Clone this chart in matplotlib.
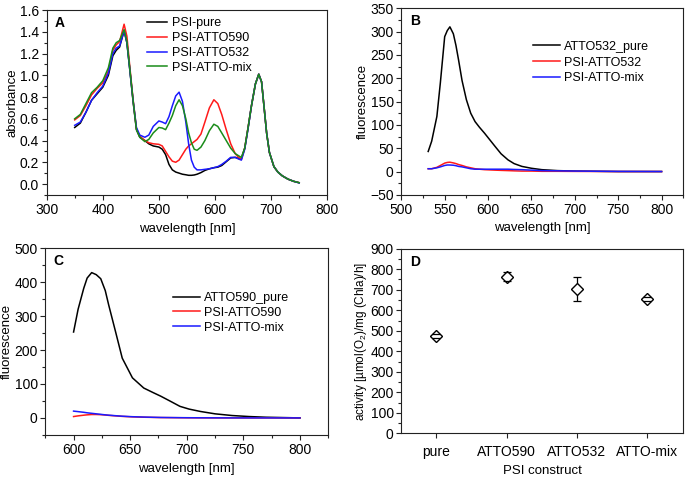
import numpy as np
import matplotlib
matplotlib.use('Agg')
import matplotlib.pyplot as plt
from matplotlib.ticker import MultipleLocator

plt.rcParams['font.family'] = ['Liberation Sans', 'DejaVu Sans']
plt.rcParams['mathtext.fontset'] = 'custom'
plt.rcParams['mathtext.rm'] = 'Liberation Sans'
plt.rcParams['mathtext.it'] = 'Liberation Sans:italic'

# --- panel A: absorbance spectra ---
wl_a = [350, 360, 370, 380, 390, 400, 410, 418, 424, 430, 438, 443, 448, 454, 460, 466,
        475, 482, 490, 500, 506, 512, 518, 524, 530, 536, 542, 548, 553, 558, 563, 568,
        575, 582, 590, 598, 605, 612, 620, 628, 636, 642, 647, 653, 659, 665, 672, 678,
        683, 688, 692, 697, 705, 712, 720, 730, 740, 750]
abs_pure = [0.52, 0.56, 0.66, 0.77, 0.83, 0.89, 1.00, 1.18, 1.23, 1.26, 1.41, 1.30, 1.06, 0.76, 0.50, 0.43,
            0.40, 0.37, 0.35, 0.34, 0.32, 0.27, 0.18, 0.13, 0.11, 0.10, 0.09, 0.085, 0.08, 0.08, 0.083, 0.09,
            0.105, 0.125, 0.14, 0.15, 0.155, 0.17, 0.205, 0.24, 0.245, 0.235, 0.235, 0.33, 0.52, 0.72, 0.92, 1.01,
            0.94, 0.68, 0.47, 0.29, 0.16, 0.11, 0.075, 0.045, 0.025, 0.012]
abs_590 = [0.59, 0.63, 0.72, 0.82, 0.88, 0.93, 1.04, 1.23, 1.28, 1.31, 1.47, 1.36, 1.09, 0.78, 0.51, 0.44,
           0.40, 0.38, 0.37, 0.365, 0.35, 0.30, 0.25, 0.21, 0.20, 0.22, 0.27, 0.32, 0.35, 0.37, 0.39, 0.41,
           0.46, 0.57, 0.70, 0.775, 0.74, 0.64, 0.50, 0.37, 0.28, 0.245, 0.225, 0.33, 0.52, 0.72, 0.92, 1.01,
           0.94, 0.68, 0.47, 0.29, 0.16, 0.11, 0.075, 0.045, 0.025, 0.012]
abs_532 = [0.54, 0.57, 0.66, 0.77, 0.84, 0.90, 1.02, 1.20, 1.25, 1.27, 1.41, 1.30, 1.06, 0.77, 0.52, 0.45,
           0.43, 0.45, 0.53, 0.58, 0.57, 0.555, 0.62, 0.72, 0.81, 0.845, 0.76, 0.57, 0.37, 0.22, 0.155, 0.13,
           0.13, 0.135, 0.14, 0.15, 0.16, 0.18, 0.21, 0.245, 0.245, 0.23, 0.22, 0.32, 0.51, 0.72, 0.92, 1.01,
           0.94, 0.68, 0.47, 0.29, 0.16, 0.11, 0.075, 0.045, 0.025, 0.01]
abs_mix = [0.60, 0.64, 0.74, 0.84, 0.89, 0.95, 1.07, 1.25, 1.30, 1.32, 1.42, 1.31, 1.07, 0.77, 0.50, 0.43,
           0.39, 0.41, 0.47, 0.52, 0.515, 0.50, 0.56, 0.63, 0.72, 0.775, 0.72, 0.60, 0.47, 0.38, 0.32, 0.31,
           0.34, 0.40, 0.49, 0.55, 0.53, 0.47, 0.40, 0.33, 0.28, 0.26, 0.245, 0.33, 0.52, 0.72, 0.92, 1.01,
           0.94, 0.68, 0.47, 0.29, 0.16, 0.11, 0.075, 0.045, 0.025, 0.012]

# --- panel B: fluorescence, ATTO532 excitation ---
wl_b = [531, 535, 541, 545, 550, 553, 556, 560, 563, 566, 570, 575, 580, 585, 590, 596, 602, 608,
        615, 623, 630, 639, 650, 662, 680, 700, 750, 800]
fl_b_pure = [43, 65, 118, 190, 289, 302, 310, 295, 270, 239, 195, 154, 125, 107, 95, 82, 68, 54,
             38, 25, 17, 11, 7, 4, 2, 1, 0, 0]
fl_b_psi = [6, 6, 9, 13, 18, 19.5, 20, 18.5, 17, 15, 13, 10, 8, 6, 5, 4, 3.5, 3,
            2.5, 2, 1.5, 1, 1, 0.5, 0.5, 0.3, 0, 0]
fl_b_mix = [6, 6, 8, 10, 13, 14, 14, 13.5, 12.5, 11, 10, 8, 6, 5, 5, 5, 5, 5,
            5, 5, 4.5, 4, 3, 2, 1.5, 1, 0.3, 0]

# --- panel C: fluorescence, ATTO590 excitation ---
wl_c = [600, 604, 609, 612, 616, 620, 624, 628, 631, 637, 643, 652, 662, 670, 677, 685,
        694, 702, 712, 725, 740, 755, 770, 785, 800]
fl_c_pure = [253, 320, 382, 412, 428, 422, 410, 375, 333, 255, 176, 118, 88, 75, 64, 50,
             34, 26, 19, 12, 7, 4, 2, 1, 0]
fl_c_psi = [4, 6, 8, 9, 10, 10, 9.5, 8.5, 7.5, 6, 4.5, 3, 2, 1.5, 1, 0.8,
            0.5, 0.3, 0.2, 0, 0, 0, 0, 0, 0]
fl_c_mix = [20, 18.5, 16.5, 15, 13.5, 12, 10.5, 9, 8, 6.5, 5, 3.5, 2.5, 1.8, 1.3, 1,
            0.7, 0.5, 0.3, 0.2, 0, 0, 0, 0, 0]

# --- panel D: activity ---
constructs = ['pure', 'ATTO590', 'ATTO532', 'ATTO-mix']
activity = [473, 763, 703, 655]
activity_err = [10, 22, 60, 10]

fig = plt.figure(figsize=(6.86, 4.8), dpi=100)
fig.patch.set_facecolor('white')

ax_a = fig.add_axes([0.068, 0.594, 0.409, 0.385])
ax_b = fig.add_axes([0.585, 0.594, 0.411, 0.389])
ax_c = fig.add_axes([0.066, 0.094, 0.4125, 0.389])
ax_d = fig.add_axes([0.585, 0.097, 0.411, 0.385])

lw = 1.1
tick_fs = 10
label_fs = 9.5
leg_fs = 9


def style_axes(ax):
    for s in ax.spines.values():
        s.set_linewidth(0.8)
        s.set_color('#222222')
    ax.tick_params(which='both', direction='out', top=False, right=False,
                   labelsize=tick_fs, width=0.8, color='#222222', pad=2)
    ax.tick_params(which='major', length=3.5)
    ax.tick_params(which='minor', length=2)


# A
ax_a.plot(wl_a, abs_pure, color='black', lw=lw, label='PSI-pure')
ax_a.plot(wl_a, abs_590, color='#ff1a1a', lw=lw, label='PSI-ATTO590')
ax_a.plot(wl_a, abs_532, color='#1a1aff', lw=lw, label='PSI-ATTO532')
ax_a.plot(wl_a, abs_mix, color='#1a8c1a', lw=lw, label='PSI-ATTO-mix')
ax_a.set_xlim(300, 800)
ax_a.set_ylim(-0.1, 1.6)
ax_a.xaxis.set_major_locator(MultipleLocator(100))
ax_a.xaxis.set_minor_locator(MultipleLocator(50))
ax_a.yaxis.set_major_locator(MultipleLocator(0.2))
ax_a.yaxis.set_minor_locator(MultipleLocator(0.1))
ax_a.yaxis.set_major_formatter(matplotlib.ticker.FormatStrFormatter('%.1f'))
ax_a.set_xlabel('wavelength [nm]', fontsize=label_fs, labelpad=5)
ax_a.set_ylabel('absorbance', fontsize=label_fs, labelpad=1)
ax_a.legend(loc='upper left', bbox_to_anchor=(0.358, 0.96), frameon=False, fontsize=leg_fs,
            handlelength=1.6, handletextpad=0.4, labelspacing=0.22, borderpad=0, borderaxespad=0)

# B
ax_b.plot(wl_b, fl_b_pure, color='black', lw=lw, label='ATTO532_pure')
ax_b.plot(wl_b, fl_b_psi, color='#ff1a1a', lw=lw, label='PSI-ATTO532')
ax_b.plot(wl_b, fl_b_mix, color='#1a1aff', lw=lw, label='PSI-ATTO-mix')
ax_b.set_xlim(500, 825)
ax_b.set_ylim(-50, 350)
ax_b.xaxis.set_major_locator(MultipleLocator(50))
ax_b.xaxis.set_minor_locator(MultipleLocator(25))
ax_b.yaxis.set_major_locator(MultipleLocator(50))
ax_b.yaxis.set_minor_locator(MultipleLocator(25))
ax_b.set_xlabel('wavelength [nm]', fontsize=label_fs, labelpad=4)
ax_b.set_ylabel('fluorescence', fontsize=label_fs, labelpad=1)
ax_b.legend(loc='upper left', bbox_to_anchor=(0.4675, 0.825), frameon=False, fontsize=leg_fs,
            handlelength=2.15, handletextpad=0.35, labelspacing=0.3, borderpad=0, borderaxespad=0)

# C
ax_c.plot(wl_c, fl_c_pure, color='black', lw=lw, label='ATTO590_pure')
ax_c.plot(wl_c, fl_c_psi, color='#ff1a1a', lw=lw, label='PSI-ATTO590')
ax_c.plot(wl_c, fl_c_mix, color='#1a1aff', lw=lw, label='PSI-ATTO-mix')
ax_c.set_xlim(575, 825)
ax_c.set_ylim(-50, 500)
ax_c.xaxis.set_major_locator(MultipleLocator(50))
ax_c.xaxis.set_minor_locator(MultipleLocator(25))
ax_c.yaxis.set_major_locator(MultipleLocator(100))
ax_c.yaxis.set_minor_locator(MultipleLocator(50))
ax_c.set_xlabel('wavelength [nm]', fontsize=label_fs, labelpad=5)
ax_c.set_ylabel('fluorescence', fontsize=label_fs, labelpad=1)
ax_c.legend(loc='upper left', bbox_to_anchor=(0.453, 0.765), frameon=False, fontsize=leg_fs,
            handlelength=2.15, handletextpad=0.27, labelspacing=0.22, borderpad=0, borderaxespad=0)

# D
xpos = np.arange(len(constructs))
eb = ax_d.errorbar(xpos, activity, yerr=activity_err, fmt='none', ecolor='black',
                   elinewidth=0.9, capsize=3, capthick=0.9, zorder=2)
ax_d.plot(xpos, activity, linestyle='none', marker='D', markersize=6.5,
          markerfacecolor='white', markeredgecolor='black', markeredgewidth=1.0, zorder=3)
for cap in eb[1]:
    cap.set_zorder(4)
ax_d.set_xlim(-0.5, 3.52)
ax_d.set_ylim(0, 900)
ax_d.set_xticks(xpos)
ax_d.set_xticklabels(constructs)
ax_d.yaxis.set_major_locator(MultipleLocator(100))
ax_d.yaxis.set_minor_locator(MultipleLocator(50))
ax_d.set_xlabel('PSI construct', fontsize=label_fs, labelpad=4)
ax_d.set_ylabel(r'activity [µmol(O$_2$)/mg (Chla)/h]', fontsize=8.5, labelpad=1)

for ax, letter in zip([ax_a, ax_b, ax_c, ax_d], ['A', 'B', 'C', 'D']):
    style_axes(ax)
    ax.text(0.03, 0.93, letter, transform=ax.transAxes, fontsize=10,
            fontweight='bold', ha='left', va='center')

ax_d.tick_params(axis='x', which='minor', bottom=False)
ax_d.tick_params(axis='x', pad=5)

fig.savefig('out.png', dpi=100)
